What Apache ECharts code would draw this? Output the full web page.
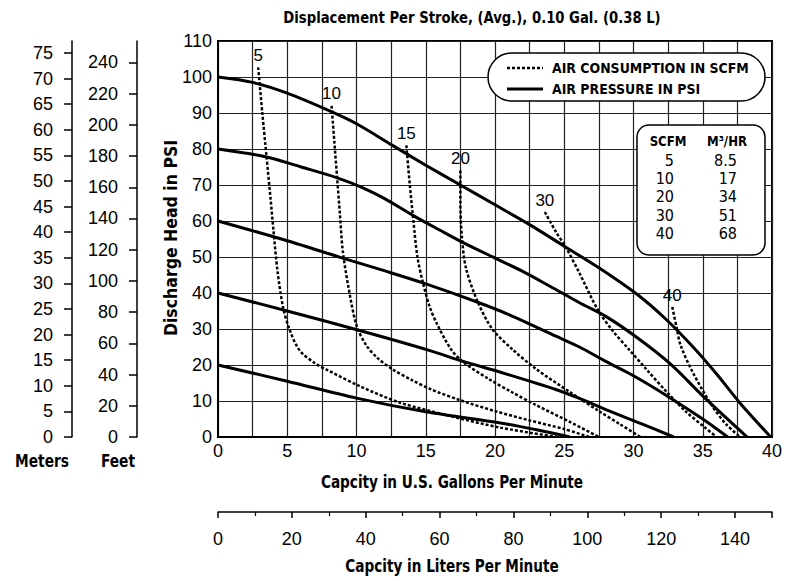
<!DOCTYPE html>
<html><head><meta charset="utf-8">
<script src="https://cdn.jsdelivr.net/npm/echarts@6/dist/echarts.min.js"></script>
<style>html,body{margin:0;padding:0;background:#fff}#c{width:793px;height:581px}</style>
</head><body><div id="c"></div>
<script>
// ---- Data (gpm, psi) ----
const psi100 = [[0,100],[2.5,98.5],[5,95.5],[8.1,90.5],[10,87],[12.6,81],[15,75.5],[17.5,70],[20,64.5],[22.5,59],[25,53],[27.5,47],[30.3,39.5],[32.4,32.5],[34.3,25],[36,17.5],[37.7,9.4],[39.9,0]];
const psi80 = [[0,80],[3.5,77.8],[6,75],[8.6,72],[10.3,69.5],[12,66.3],[14.1,61.5],[16,57.5],[17.7,54],[20,49.7],[22,46],[24,41.8],[26.1,37.3],[28,33.5],[30.3,27.5],[32.6,20.5],[35.3,10.3],[38.2,0]];
const psi60 = [[0,60],[5,54.5],[9,49.7],[12,46.2],[14.8,42.8],[18.7,37.5],[21,34],[24.4,28],[26.1,25],[28,21],[30,17],[32.6,11],[35,5],[36.8,0]];
const psi40 = [[0,40],[5,35],[10.3,29.5],[15.3,24],[17.7,21],[20.4,18],[24.4,13.2],[26.1,10.7],[28,7.6],[30.5,3.8],[32.9,0]];
const psi20 = [[0,20],[5,15.5],[10,10.8],[15,7],[20.4,3.9],[23,2],[25.4,0]];

const scfm5 = [[2.9,102.7],[3.2,90],[3.5,78],[3.8,66],[4.0,57.5],[4.3,46],[4.7,36],[5.2,29.5],[5.9,24],[7,20.5],[7.9,18.6],[10.3,14],[13.1,9.6],[16.8,5.8],[20.4,2.6],[24.5,0]];
const scfm10 = [[8.2,92],[8.4,82],[8.6,72],[8.8,62],[9.0,52],[9.4,42],[10,31],[10.7,25.5],[11.5,22],[12.6,18.8],[14,15.8],[15.4,13.2],[17.5,10.2],[20,7.2],[22.5,4.6],[25,2.2],[26.8,0]];
const scfm15 = [[13.6,81],[13.85,70],[14.1,60.3],[14.4,50],[14.8,42.8],[15.3,36],[15.8,31.5],[16.8,24.5],[17.7,20.8],[19.6,16],[21.2,12.5],[23,8.8],[25.4,4.2],[27.5,0]];
const scfm20 = [[17.5,74],[17.5,65],[17.6,56],[17.9,47],[18.7,38],[19.8,30],[21.3,24.2],[23,18.8],[25.4,12.5],[27.5,7.2],[29,3.6],[30.5,0]];
const scfm30 = [[23.6,62.5],[24.4,57],[25.1,52.8],[26.1,45.5],[27.4,35.5],[28.5,29.5],[29.7,24.2],[31,18.5],[32.4,12.5],[33.8,7],[35.2,2.5],[36,0]];
const scfm40 = [[32.8,36.1],[33.1,30.6],[33.4,25.5],[34.3,17.8],[35.7,8.5],[36.7,3.5],[37.7,0]];

const pressureNames = ['100','80','60','40','20'];
const pressureCurves = [psi100, psi80, psi60, psi40, psi20];
const scfmNames = ['5','10','15','20','30','40'];
const scfmCurves = [scfm5, scfm10, scfm15, scfm20, scfm30, scfm40];

const tableScfm = ['5','10','20','30','40'];
const tableM3hr = ['8.5','17','34','51','68'];

const psiMax = 110, psiStep = 10;
const gpmMax = 40, gpmStep = 5;
const meterPerPsi = 0.70307, feetPerPsi = 2.30666;
const lpmMax = 150, lpmStep = 20;

const titleText = 'Displacement Per Stroke, (Avg.), 0.10 Gal. (0.38 L)';
const yName = 'Discharge Head in PSI';
const xName = 'Capcity in U.S. Gallons Per Minute';
const x2Name = 'Capcity in Liters Per Minute';
const legendTexts = ['AIR CONSUMPTION IN SCFM','AIR PRESSURE IN PSI'];

// ---- Chart ----
const NARROW = '"Liberation Sans Narrow","DejaVu Sans Condensed","Liberation Sans",sans-serif';
const REG = '"Liberation Sans",Arial,sans-serif';
const chart = echarts.init(document.getElementById('c'), null, {renderer:'svg'});

const series = [];
pressureCurves.forEach((d,i)=>series.push({
  name:'psi '+pressureNames[i], type:'line', data:d, showSymbol:false, smooth:0.3,
  lineStyle:{color:'#000', width:3}, itemStyle:{color:'#000'}, z:4, silent:true
}));
scfmCurves.forEach((d,i)=>series.push({
  name:'scfm '+scfmNames[i], type:'line', data:d, showSymbol:false, smooth:0.3,
  lineStyle:{color:'#000', width:2.5, type:[3,2]}, itemStyle:{color:'#000'}, z:3, silent:true
}));
series.push({
  name:'scfm labels', type:'scatter', symbol:'circle', symbolSize:1, silent:true,
  itemStyle:{color:'#000', opacity:0},
  data: scfmCurves.map((d,i)=>[d[0][0], d[0][1], scfmNames[i]]),
  label:{show:true, position:'top', distance:3, formatter:p=>p.value[2], color:'#000', opacity:1,
         textBorderColor:'transparent', textBorderWidth:0, fontFamily:REG, fontSize:17}
});

const g = [];
const txt = (x,y,text,font,align,extra)=>Object.assign({type:'text', x, y, silent:true,
  style:{text, font, fill:'#000', textAlign:align||'center', textVerticalAlign:'middle'}}, extra||{});
g.push(txt(472,18,titleText,'bold 16.5px '+NARROW,'center',{scaleX:0.89}));
g.push(txt(171,238,yName,'bold 17.5px '+NARROW,'center',{rotation:Math.PI/2}));
g.push(txt(452,482,xName,'bold 17px '+NARROW,'center',{scaleX:0.89}));
g.push(txt(452,566,x2Name,'bold 17px '+NARROW,'center',{scaleX:0.89}));
g.push(txt(42,461,'Meters','bold 17px '+NARROW,'center',{scaleX:0.9}));
g.push(txt(118,461,'Feet','bold 17px '+NARROW,'center',{scaleX:0.9}));
// legend box
g.push({type:'rect', silent:true, shape:{x:488,y:53,width:277,height:48,r:24}, style:{fill:'#fff', stroke:'#000', lineWidth:1.5}, z:10});
g.push({type:'line', silent:true, shape:{x1:507,y1:68,x2:543,y2:68}, style:{stroke:'#000', lineWidth:2.5, lineDash:[3,2]}, z:11});
g.push({type:'line', silent:true, shape:{x1:507,y1:89,x2:543,y2:89}, style:{stroke:'#000', lineWidth:3}, z:11});
g.push(txt(552,68,legendTexts[0],'bold 14.5px '+NARROW,'left',{z:11, scaleX:0.96}));
g.push(txt(552,89,legendTexts[1],'bold 14.5px '+NARROW,'left',{z:11, scaleX:0.96}));
// table box
g.push({type:'rect', silent:true, shape:{x:637,y:125,width:128,height:130,r:12}, style:{fill:'#fff', stroke:'#000', lineWidth:1.5}, z:10});
g.push(txt(668,141,'SCFM','bold 14.5px '+NARROW,'center',{z:11, scaleX:0.9}));
g.push(txt(727,141,'M³/HR','bold 14.5px '+NARROW,'center',{z:11, scaleX:0.9}));
tableScfm.forEach((s,i)=>{
  g.push(txt(674,160+i*18.4,s,'16px '+NARROW,'right',{z:11}));
  g.push(txt(737,160+i*18.4,tableM3hr[i],'16px '+NARROW,'right',{z:11}));
});

const tickLabel = {color:'#000', fontFamily:REG, fontSize:18};
chart.setOption({
  animation:false,
  backgroundColor:'#fff',
  grid:[
    {left:218, top:41, width:554, height:396, show:true, borderColor:'#000', borderWidth:2, backgroundColor:'#fff'},
    {left:218, top:511, width:554, height:1}
  ],
  xAxis:[
    {type:'value', gridIndex:0, min:0, max:gpmMax, interval:gpmStep,
     axisLine:{show:true, lineStyle:{color:'#000', width:2}}, axisTick:{show:false},
     axisLabel:Object.assign({margin:5}, tickLabel),
     splitLine:{show:true, lineStyle:{color:'#222', width:1.2}},
     minorTick:{show:false, splitNumber:2},
     minorSplitLine:{show:true, lineStyle:{color:'#222', width:1.2}}},
    {type:'value', gridIndex:1, min:0, max:lpmMax, interval:lpmStep, position:'bottom',
     axisLine:{show:true, lineStyle:{color:'#000', width:1.5}},
     axisTick:{show:true, length:6, lineStyle:{color:'#000', width:1.5}},
     minorTick:{show:true, splitNumber:2, length:4, lineStyle:{color:'#000', width:1.2}},
     axisLabel:Object.assign({margin:18, showMaxLabel:false}, tickLabel),
     splitLine:{show:false}}
  ],
  yAxis:[
    {type:'value', gridIndex:0, min:0, max:psiMax, interval:psiStep,
     axisLine:{show:true, lineStyle:{color:'#000', width:2}}, axisTick:{show:false},
     axisLabel:Object.assign({margin:6}, tickLabel),
     splitLine:{show:true, lineStyle:{color:'#222', width:1.2}}},
    {type:'value', gridIndex:0, position:'left', offset:146, min:0, max:+(psiMax*meterPerPsi).toFixed(2), interval:5,
     axisLine:{show:true, lineStyle:{color:'#000', width:1.5}},
     axisTick:{show:true, length:8, lineStyle:{color:'#000', width:1.5}},
     axisLabel:Object.assign({margin:19, showMaxLabel:false}, tickLabel), splitLine:{show:false}},
    {type:'value', gridIndex:0, position:'left', offset:81, min:0, max:+(psiMax*feetPerPsi).toFixed(1), interval:20,
     axisLine:{show:true, lineStyle:{color:'#000', width:1.5}},
     axisTick:{show:true, length:8, lineStyle:{color:'#000', width:1.5}},
     axisLabel:Object.assign({margin:19, showMaxLabel:false}, tickLabel), splitLine:{show:false}},
    {type:'value', gridIndex:1, show:false, min:0, max:1}
  ],
  graphic:g,
  series:series
});
</script></body></html>
